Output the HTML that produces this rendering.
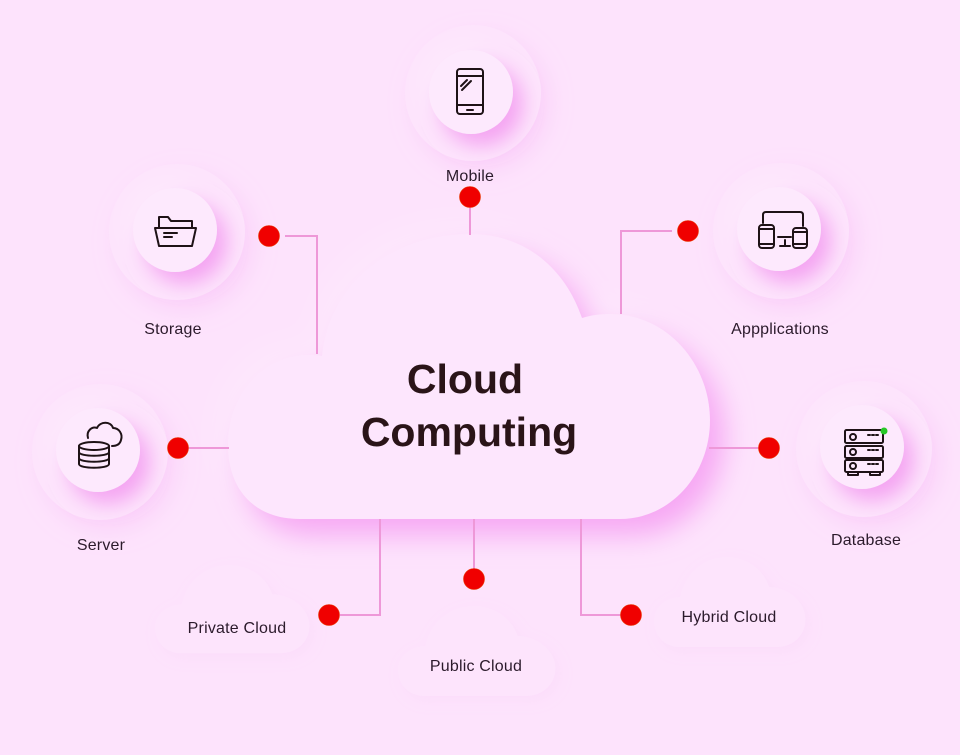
<!DOCTYPE html>
<html><head><meta charset="utf-8"><style>
html,body{margin:0;padding:0;background:#fde3fc;}
svg{display:block}
text{font-family:"Liberation Sans",sans-serif;}
</style></head><body>
<svg width="960" height="755" viewBox="0 0 960 755" xmlns="http://www.w3.org/2000/svg">
<defs>
<filter id="cs" x="-25%" y="-35%" width="160%" height="180%">
 <feGaussianBlur in="SourceAlpha" stdDeviation="14" result="b"/>
 <feOffset in="b" dx="14" dy="16" result="o"/>
 <feFlood flood-color="#f59cf2" flood-opacity="0.85"/>
 <feComposite in2="o" operator="in" result="sh"/>
 <feOffset in="b" dx="-10" dy="-10" result="o2"/>
 <feFlood flood-color="#ffffff" flood-opacity="0.18"/>
 <feComposite in2="o2" operator="in" result="hl"/>
 <feMerge><feMergeNode in="hl"/><feMergeNode in="sh"/><feMergeNode in="SourceGraphic"/></feMerge>
</filter>
<filter id="is" x="-60%" y="-60%" width="230%" height="230%">
 <feGaussianBlur in="SourceAlpha" stdDeviation="10" result="b"/>
 <feOffset in="b" dx="10" dy="12" result="o"/>
 <feFlood flood-color="#f294ef" flood-opacity="0.8"/>
 <feComposite in2="o" operator="in" result="sh"/>
 <feOffset in="b" dx="-8" dy="-8" result="o2"/>
 <feFlood flood-color="#ffffff" flood-opacity="0.2"/>
 <feComposite in2="o2" operator="in" result="hl"/>
 <feMerge><feMergeNode in="hl"/><feMergeNode in="sh"/><feMergeNode in="SourceGraphic"/></feMerge>
</filter>
<filter id="hs" x="-50%" y="-50%" width="200%" height="200%">
 <feGaussianBlur in="SourceAlpha" stdDeviation="12" result="b"/>
 <feOffset in="b" dx="8" dy="10" result="o"/>
 <feFlood flood-color="#f6b0f4" flood-opacity="0.35"/>
 <feComposite in2="o" operator="in" result="sh"/>
 <feMerge><feMergeNode in="sh"/><feMergeNode in="SourceGraphic"/></feMerge>
</filter>
<filter id="ss" x="-30%" y="-30%" width="160%" height="170%">
 <feGaussianBlur in="SourceAlpha" stdDeviation="7" result="b"/>
 <feOffset in="b" dx="4" dy="5" result="o"/>
 <feFlood flood-color="#f3b8f1" flood-opacity="0.14"/>
 <feComposite in2="o" operator="in" result="sh"/>
 <feMerge><feMergeNode in="sh"/><feMergeNode in="SourceGraphic"/></feMerge>
</filter>
<path id="sc" d="M 25 90 C 10 90, 0 78, 0 64 C 0 50, 12 40, 26 40 C 30 18, 48 0, 72 0 C 92 0, 108 12, 114 30 C 134 30, 150 46, 150 62 C 150 78, 138 90, 122 90 Z"/>
</defs>
<rect width="960" height="755" fill="#fde3fc"/>

<!-- faint bottom clouds -->
<g fill="#fde4fc" filter="url(#ss)">
 <use href="#sc" transform="translate(155,565) scale(1.03,0.98)"/>
 <use href="#sc" transform="translate(398,606) scale(1.05,1.0)"/>
 <use href="#sc" transform="translate(654,557) scale(1.01,1.0)"/>
</g>

<!-- icon halos -->
<g fill="#fde4fc" filter="url(#hs)">
 <circle cx="473" cy="93" r="68"/>
 <circle cx="177" cy="232" r="68"/>
 <circle cx="781" cy="231" r="68"/>
 <circle cx="100" cy="452" r="68"/>
 <circle cx="864" cy="449" r="68"/>
</g>
<!-- icon circles -->
<g fill="#fde9fd" filter="url(#is)">
 <circle cx="471" cy="92" r="42"/>
 <circle cx="175" cy="230" r="42"/>
 <circle cx="779" cy="229" r="42"/>
 <circle cx="98" cy="450" r="42"/>
 <circle cx="862" cy="447" r="42"/>
</g>

<!-- main cloud -->
<path filter="url(#cs)" fill="#fde6fd" d="M 300 519 C 255 519, 228 490, 228 445 C 228 395, 262 357, 305 355 C 312 355, 318 355, 322 356 C 330 280, 395 234, 470 234 C 525 234, 565 268, 582 318 C 592 315, 600 314, 610 314 C 668 314, 710 365, 710 420 C 710 475, 670 519, 620 519 Z"/>

<text x="465" y="393" text-anchor="middle" font-size="41" font-weight="bold" fill="#2a1418">Cloud</text>
<text x="469" y="446" text-anchor="middle" font-size="41" font-weight="bold" fill="#2a1418">Computing</text>

<!-- connectors -->
<g stroke="#ee98d8" stroke-width="2" fill="none">
 <path d="M470 207 V235"/>
 <path d="M285 236 H317 V354"/>
 <path d="M672 231 H621 V314"/>
 <path d="M188 448 H229"/>
 <path d="M709 448 H759"/>
 <path d="M380 519 V615 H340"/>
 <path d="M474 519 V569"/>
 <path d="M581 519 V615 H621"/>
</g>
<g fill="#f00000" stroke="#e83a00" stroke-width="0.6">
 <circle cx="470" cy="197" r="10.5"/>
 <circle cx="269" cy="236" r="10.5"/>
 <circle cx="688" cy="231" r="10.5"/>
 <circle cx="178" cy="448" r="10.5"/>
 <circle cx="769" cy="448" r="10.5"/>
 <circle cx="329" cy="615" r="10.5"/>
 <circle cx="474" cy="579" r="10.5"/>
 <circle cx="631" cy="615" r="10.5"/>
</g>

<!-- icons -->
<g stroke="#1e1216" stroke-width="2" fill="none" stroke-linecap="round" stroke-linejoin="round">
 <!-- mobile -->
 <rect x="457" y="69" width="26" height="45" rx="3"/>
 <line x1="457" y1="76" x2="483" y2="76"/>
 <line x1="457" y1="105" x2="483" y2="105"/>
 <line x1="467" y1="110" x2="473" y2="110"/>
 <line x1="461" y1="86" x2="467" y2="80"/>
 <line x1="462" y1="90" x2="471" y2="81"/>
 <!-- folder -->
 <path d="M159 228 V217 H168 L171 221 H192 V228"/>
 <path d="M155 228 H196 L192 246 H159 Z"/>
 <line x1="164" y1="233" x2="177" y2="233"/>
 <line x1="164" y1="237" x2="172" y2="237"/>
 <!-- applications -->
 <path d="M763 223 V215 Q763 212 766 212 H800 Q803 212 803 215 V226"/>
 <rect x="759" y="225" width="15" height="23" rx="3"/>
 <line x1="759" y1="229" x2="774" y2="229"/>
 <line x1="759" y1="244" x2="774" y2="244"/>
 <rect x="793" y="228" width="14" height="20" rx="3"/>
 <line x1="793" y1="232" x2="807" y2="232"/>
 <line x1="793" y1="244" x2="807" y2="244"/>
 <line x1="778" y1="237" x2="791" y2="237"/>
 <line x1="785" y1="240" x2="785" y2="246"/>
 <line x1="780" y1="246" x2="790" y2="246"/>
 <!-- server -->
 <path d="M88 438 C 86 431, 92 426, 97 428 C 100 421, 111 421, 113 428 C 119 428, 123 434, 121 440 C 120 444, 117 446, 112 446"/>
 <ellipse cx="94" cy="446" rx="15" ry="4"/>
 <path d="M79 446 V464 C 79 469, 109 469, 109 464 V446"/>
 <path d="M79 452 C 79 457, 109 457, 109 452"/>
 <path d="M79 458 C 79 463, 109 463, 109 458"/>
 <!-- database -->
 <rect x="845" y="430" width="38" height="13" rx="1.5"/>
 <rect x="845" y="446" width="38" height="12" rx="1.5"/>
 <rect x="845" y="460" width="38" height="12" rx="1.5"/>
 <path d="M848 472 V475 H858 V472"/>
 <path d="M870 472 V475 H880 V472"/>
 <circle cx="853" cy="437" r="3"/>
 <circle cx="853" cy="452" r="3"/>
 <circle cx="853" cy="466" r="3"/>
 <line x1="868" y1="435" x2="878" y2="435" stroke-dasharray="2 2"/>
 <line x1="868" y1="450" x2="878" y2="450" stroke-dasharray="2 2"/>
 <line x1="868" y1="464" x2="878" y2="464" stroke-dasharray="2 2"/>
</g>
<circle cx="884" cy="431" r="3.5" fill="#28c828"/>

<!-- labels -->
<g font-size="16" fill="#2b1a2b" text-anchor="middle" letter-spacing="0.2">
 <text x="470" y="181">Mobile</text>
 <text x="173" y="334">Storage</text>
 <text x="780" y="334">Appplications</text>
 <text x="101" y="550">Server</text>
 <text x="866" y="545">Database</text>
 <text x="237" y="633">Private Cloud</text>
 <text x="476" y="671">Public Cloud</text>
 <text x="729" y="622">Hybrid Cloud</text>
</g>
</svg>
</body></html>
